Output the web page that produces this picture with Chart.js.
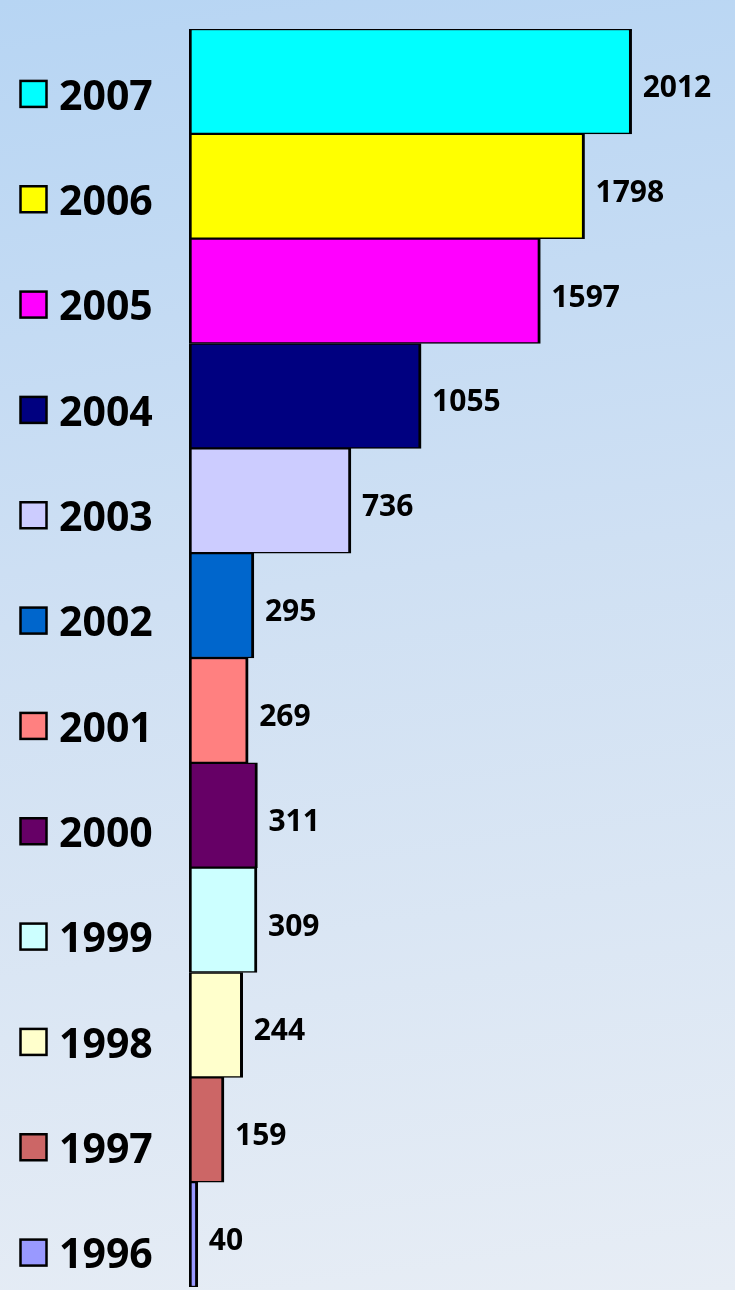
<!DOCTYPE html>
<html>
<head>
<meta charset="utf-8">
<script src="https://cdn.jsdelivr.net/npm/chart.js@4/dist/chart.umd.min.js"></script>
<style>
html,body{margin:0;padding:0;width:735px;height:1290px;overflow:hidden;}
body{background:linear-gradient(172deg,#b7d5f3 0%,#cfe0f3 45%,#e7edf5 100%);}
#wrap{position:absolute;left:0;top:0;width:735px;height:1290px;}
</style>
</head>
<body>
<div id="wrap"><canvas id="c" width="735" height="1290"></canvas></div>
<script>
const years = ['2007','2006','2005','2004','2003','2002','2001','2000','1999','1998','1997','1996'];
const values = [2012,1798,1597,1055,736,295,269,311,309,244,159,40];
const colors = ['#00ffff','#ffff00','#ff00ff','#000080','#ccccff','#0066cc','#ff8080','#660066','#ccffff','#ffffcc','#cc6666','#9999ff'];

const FONT = '"Open Sans", "DejaVu Sans", sans-serif';

const overlay = {
  id: 'overlay',
  afterDatasetsDraw(chart) {
    const ctx = chart.ctx;
    const y = chart.scales.y;
    const meta = chart.getDatasetMeta(0);
    ctx.save();
    ctx.fillStyle = '#000';
    ctx.font = 'bold 30px ' + FONT;
    ctx.textBaseline = 'middle';
    ctx.textAlign = 'left';
    meta.data.forEach((bar, i) => {
      ctx.fillText(String(values[i]), bar.x + 11, bar.y + 7);
    });
    years.forEach((yr, i) => {
      const cy = y.getPixelForValue(i) + 12.5 + i * 0.5;
      ctx.fillStyle = colors[i];
      ctx.fillRect(20.5, cy - 13, 26, 26);
      ctx.lineWidth = 2.5;
      ctx.strokeStyle = '#000';
      ctx.strokeRect(20.5, cy - 13, 26, 26);
      ctx.fillStyle = '#000';
      ctx.font = 'bold 41px ' + FONT;
      ctx.textBaseline = 'middle';
      ctx.fillText(yr, 59, cy + 4);
    });
    ctx.restore();
  }
};

new Chart(document.getElementById('c'), {
  type: 'bar',
  data: {
    labels: years,
    datasets: [{
      data: values,
      backgroundColor: colors,
      borderColor: '#000',
      borderWidth: {top: 1.5, bottom: 1.5, left: 3, right: 3},
      borderSkipped: false,
      barPercentage: 1,
      categoryPercentage: 1
    }]
  },
  options: {
    indexAxis: 'y',
    responsive: false,
    animation: false,
    devicePixelRatio: 1,
    layout: {padding: {left: 189, right: 18, top: 29, bottom: 3}},
    plugins: {legend: {display: false}, tooltip: {enabled: false}},
    scales: {
      x: {display: false, min: 0, max: 2400},
      y: {display: false, offset: true}
    }
  },
  plugins: [overlay]
});
</script>
</body>
</html>
